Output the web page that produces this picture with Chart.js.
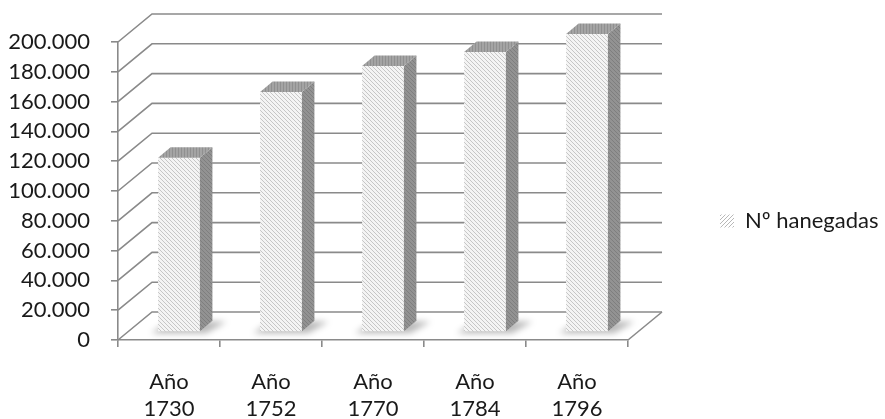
<!DOCTYPE html>
<html>
<head>
<meta charset="utf-8">
<script src="https://cdn.jsdelivr.net/npm/chart.js@4.4.0/dist/chart.umd.min.js"></script>
<style>
  html, body { margin: 0; padding: 0; background: #fff; }
  #wrap { width: 885px; height: 419px; }
</style>
</head>
<body>
<div id="wrap"><canvas id="myChart" width="885" height="419"></canvas></div>
<script>
// values
const years = ['1730', '1752', '1770', '1784', '1796'];
const categories = years.map(y => ['Año', y]);
const hanegadas = [117000, 161000, 178500, 188000, 200000];
const seriesName = 'Nº hanegadas';
const yMin = 0, yMax = 200000, yStep = 20000;

const fontFamily = 'Lato';
const fontSize = 22;
const gridColor = '#8a8a8a';
const textColor = '#1a1a1a';

// 3d look
const DX = 34, DY = 28;       // depth of the wall box
const BDX = 10, BDY = 8;      // bar front face sits a bit inside the box
const SDX = 12.5, SDY = 10.5; // bar depth

function hatch(bg, fg, dir, size) {
  const c = document.createElement('canvas');
  c.width = c.height = size;
  const g = c.getContext('2d');
  g.fillStyle = bg;
  g.fillRect(0, 0, size, size);
  g.strokeStyle = fg;
  g.lineWidth = 1;
  g.beginPath();
  for (let k = -size; k <= size; k += size) {
    if (dir === '\\') { g.moveTo(k, 0); g.lineTo(k + size, size); }
    else if (dir === '/') { g.moveTo(k + size, 0); g.lineTo(k, size); }
    else { g.moveTo(size / 2, 0); g.lineTo(size / 2, size); }
  }
  g.stroke();
  return g.createPattern(c, 'repeat');
}

const frontFill = hatch('#f4f4f4', '#c6c6c6', '\\', 4);
const sideFill = hatch('#929292', '#7e7e7e', '\\', 4);
const topFill = hatch('#a4a4a4', '#909090', '|', 3);
const legendFill = hatch('#ffffff', '#b8b8b8', '/', 4);

const box3d = {
  id: 'box3d',
  beforeDatasetsDraw(chart) {
    const { ctx, chartArea: a, scales: { y } } = chart;
    ctx.save();
    ctx.strokeStyle = gridColor;
    ctx.lineWidth = 1.6;
    y.ticks.forEach(t => {
      const py = y.getPixelForValue(t.value);
      ctx.beginPath();
      ctx.moveTo(a.left, py);
      ctx.lineTo(a.left + DX, py - DY);
      ctx.lineTo(a.right + DX, py - DY);
      ctx.stroke();
    });
    // floor right edge
    ctx.beginPath();
    ctx.moveTo(a.right, a.bottom);
    ctx.lineTo(a.right + DX, a.bottom - DY);
    ctx.stroke();

    // soft shadows under the bars
    const meta = chart.getDatasetMeta(0);
    ctx.filter = 'blur(3px)';
    ctx.fillStyle = 'rgba(0,0,0,0.28)';
    meta.data.forEach(b => {
      const xl = b.x - b.width / 2 + BDX, xr = b.x + b.width / 2 + BDX;
      const base = b.base - BDY;
      ctx.beginPath();
      ctx.moveTo(xl - 7, base + 2);
      ctx.lineTo(xr + 6, base + 2);
      ctx.lineTo(xr + SDX + 14, base - SDY + 1);
      ctx.lineTo(xl + SDX, base - SDY);
      ctx.closePath();
      ctx.fill();
    });
    ctx.restore();

    // bars are drawn by the library, pushed into the box
    ctx.save();
    ctx.translate(BDX, -BDY);
  },
  afterDatasetsDraw(chart) {
    const { ctx } = chart;
    ctx.restore();
    const meta = chart.getDatasetMeta(0);
    ctx.save();
    meta.data.forEach(b => {
      const xl = b.x - b.width / 2 + BDX, xr = b.x + b.width / 2 + BDX;
      const top = b.y - BDY, base = b.base - BDY;
      // side
      ctx.fillStyle = sideFill;
      ctx.beginPath();
      ctx.moveTo(xr, top);
      ctx.lineTo(xr + SDX, top - SDY);
      ctx.lineTo(xr + SDX, base - SDY);
      ctx.lineTo(xr, base);
      ctx.closePath();
      ctx.fill();
      // top
      ctx.fillStyle = topFill;
      ctx.beginPath();
      ctx.moveTo(xl, top);
      ctx.lineTo(xr, top);
      ctx.lineTo(xr + SDX, top - SDY);
      ctx.lineTo(xl + SDX, top - SDY);
      ctx.closePath();
      ctx.fill();
    });
    ctx.restore();
  }
};

const fmt = v => String(v).replace(/\B(?=(\d{3})+(?!\d))/g, '.');

const hidden = {
  grid: { display: false },
  border: { display: false },
  ticks: { display: false }
};

const ctx = document.getElementById('myChart').getContext('2d');
const chart = new Chart(ctx, {
  type: 'bar',
  data: {
    labels: categories,
    datasets: [{
      label: seriesName,
      data: hanegadas,
      backgroundColor: frontFill,
      borderWidth: 0,
      barPercentage: 0.41,
      categoryPercentage: 1
    }]
  },
  options: {
    responsive: false,
    animation: false,
    layout: { padding: { top: 23, left: 0, right: 0, bottom: 0 } },
    plugins: {
      tooltip: { enabled: false },
      legend: {
        position: 'right',
        maxWidth: 166,
        labels: {
          boxWidth: 14,
          boxHeight: 13,
          padding: 1,
          color: textColor,
          font: { family: fontFamily, size: fontSize },
          generateLabels: (c) => c.data.datasets.map((ds, i) => ({
            text: ds.label,
            fillStyle: legendFill,
            strokeStyle: 'rgba(0,0,0,0)',
            lineWidth: 0,
            fontColor: textColor,
            datasetIndex: i
          }))
        }
      }
    },
    scales: {
      x: {
        afterFit: s => { s.height = 79; },
        grid: { drawOnChartArea: false, tickLength: 7, color: gridColor, lineWidth: 1.6 },
        border: { color: gridColor, width: 1.6 },
        ticks: {
          color: textColor,
          padding: 21,
          maxRotation: 0,
          font: { family: fontFamily, size: fontSize, lineHeight: 1.25 }
        }
      },
      y: {
        min: yMin,
        max: yMax,
        afterFit: s => { s.width = 118; },
        grid: { drawOnChartArea: false, tickLength: 7, color: gridColor, lineWidth: 1.6 },
        border: { color: gridColor, width: 1.6 },
        ticks: {
          stepSize: yStep,
          color: textColor,
          padding: 21,
          font: { family: fontFamily, size: fontSize },
          callback: v => fmt(v)
        }
      },
      // empty room for the back wall and the legend gap
      rightGap: Object.assign({ type: 'linear', position: 'right', afterFit: s => { s.width = 91; } }, hidden),
      topGap: Object.assign({ type: 'linear', position: 'top', afterFit: s => { s.height = 19; } }, hidden)
    }
  },
  plugins: [box3d]
});
</script>
</body>
</html>
